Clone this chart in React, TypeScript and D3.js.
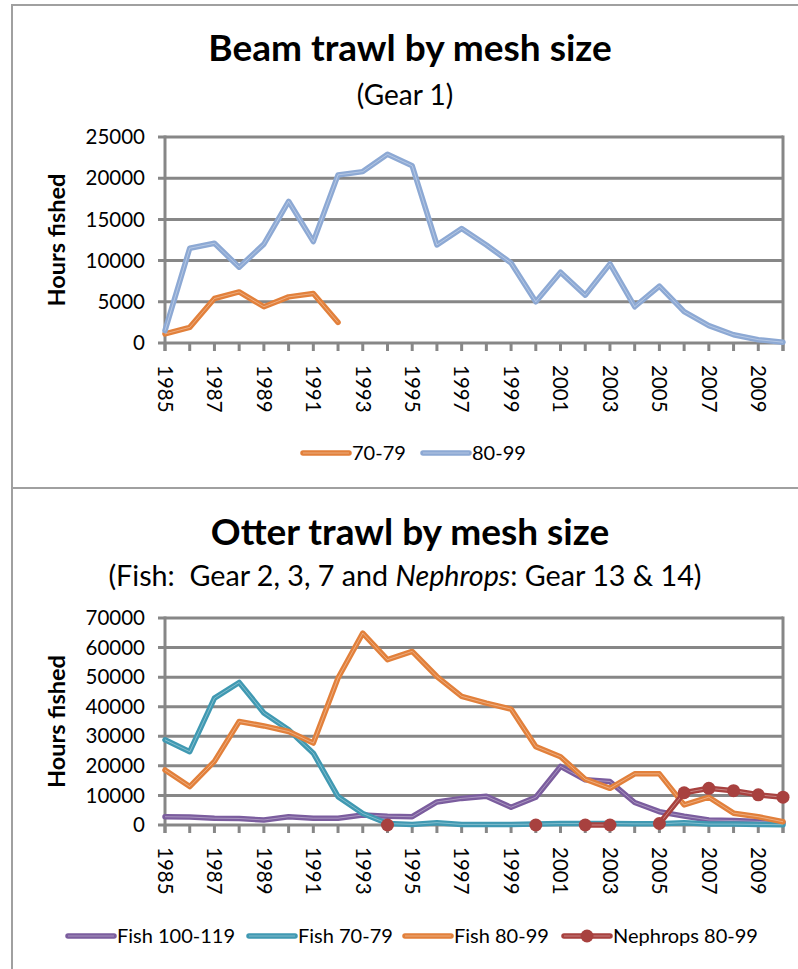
import React from "react";
import * as d3 from "d3";

const years = d3.range(1985, 2011);
const yearLabels = years.filter((y) => (y - 1985) % 2 === 0);

const beamTicks = [0, 5000, 10000, 15000, 20000, 25000];
const beam7079: (number | null)[] = [1100, 1900, 5400, 6200, 4400, 5600, 6000, 2500, null, null, null, null, null, null, null, null, null, null, null, null, null, null, null, null, null, null];
const beam8099: (number | null)[] = [1500, 11500, 12100, 9200, 12000, 17200, 12300, 20400, 20800, 22900, 21500, 11900, 13900, 11900, 9700, 5000, 8600, 5800, 9600, 4400, 6900, 3800, 2100, 1000, 400, 100];

const otterTicks = [0, 10000, 20000, 30000, 40000, 50000, 60000, 70000];
const fish100119: (number | null)[] = [2800, 2700, 2300, 2200, 1700, 2800, 2300, 2300, 3400, 3000, 2800, 7800, 9000, 9700, 6000, 9400, 19800, 15300, 14700, 7600, 4500, 3000, 1700, 1500, 1200, 800];
const fish7079: (number | null)[] = [28800, 24800, 42900, 48200, 37900, 32200, 24300, 9600, 3900, 500, 200, 800, 200, 200, 200, 300, 500, 500, 500, 400, 400, 800, 300, 300, 200, 100];
const fish8099: (number | null)[] = [18600, 13000, 21500, 35000, 33500, 31600, 27700, 49700, 64900, 55900, 58700, 50200, 43500, 41200, 39200, 26500, 23100, 15500, 12400, 17300, 17300, 6800, 9400, 4000, 2800, 1100];
const nephrops8099: (number | null)[] = [null, null, null, null, null, null, null, null, null, 0, null, null, null, null, null, 0, null, 0, 0, null, 500, 10900, 12400, 11600, 10200, 9400];

type Series = { name: string; values: (number | null)[]; color: string; marker?: boolean };

const beamSeries: Series[] = [
  { name: "70-79", values: beam7079, color: "#E2803B" },
  { name: "80-99", values: beam8099, color: "#8DA9D4" },
];
const otterSeries: Series[] = [
  { name: "Fish 100-119", values: fish100119, color: "#7B5D9E" },
  { name: "Fish 70-79", values: fish7079, color: "#4099B2" },
  { name: "Fish 80-99", values: fish8099, color: "#E2803B" },
  { name: "Nephrops 80-99", values: nephrops8099, color: "#A8413F", marker: true },
];

const FONT = "Lato, 'Open Sans', sans-serif";
const GRID = "#878787";

type ChartProps = {
  plotTop: number;
  plotBottom: number;
  ticks: number[];
  series: Series[];
  title: string;
  subtitle: React.ReactNode;
  subtitleSize: number;
  titleY: number;
  subtitleY: number;
  legendY: number;
  legendX: number[];
};

function Chart(p: ChartProps) {
  const x = d3.scalePoint<number>().domain(years).range([165, 783]);
  const y = d3.scaleLinear().domain([0, p.ticks[p.ticks.length - 1]]).range([p.plotBottom, p.plotTop]);
  const line = d3
    .line<number | null>()
    .defined((d) => d != null)
    .x((_, i) => x(years[i]) as number)
    .y((d) => y(d as number));
  const midY = (p.plotTop + p.plotBottom) / 2;
  return (
    <g>
      <text x={410} y={p.titleY} textAnchor="middle" fontFamily={FONT} fontWeight="bold" fontSize={37} fill="#000">
        {p.title}
      </text>
      <text x={405} y={p.subtitleY} textAnchor="middle" fontFamily={FONT} fontSize={p.subtitleSize} fill="#000" style={{ whiteSpace: "pre" }}>
        {p.subtitle}
      </text>
      {p.ticks.map((t) => (
        <line key={t} x1={158} x2={783} y1={y(t)} y2={y(t)} stroke={GRID} strokeWidth={3} />
      ))}
      <line x1={783} x2={783} y1={p.plotTop - 1.5} y2={p.plotBottom + 8} stroke={GRID} strokeWidth={3} />
      <line x1={165} x2={165} y1={p.plotTop - 1.5} y2={p.plotBottom + 8} stroke={GRID} strokeWidth={3} />
      {years.map((yr) => (
        <line key={yr} x1={x(yr)} x2={x(yr)} y1={p.plotBottom} y2={p.plotBottom + 8} stroke={GRID} strokeWidth={3} />
      ))}
      {p.ticks.map((t) => (
        <text key={t} x={145} y={y(t)} dy="0.35em" textAnchor="end" fontFamily={FONT} fontSize={20.5} fill="#000">
          {t}
        </text>
      ))}
      {yearLabels.map((yr) => (
        <text
          key={yr}
          transform={`translate(${x(yr)},${p.plotBottom + 22}) rotate(90)`}
          dy="0.35em"
          textAnchor="start"
          fontFamily={FONT}
          fontSize={20.5}
          fill="#000"
        >
          {yr}
        </text>
      ))}
      <text
        transform={`translate(65,${midY}) rotate(-90)`}
        textAnchor="middle"
        fontFamily={FONT}
        fontWeight="bold"
        fontSize={23.5}
        fill="#000"
      >
        Hours fished
      </text>
      {p.series.map((s) => (
        <g key={s.name}>
          <path d={line(s.values) || ""} fill="none" stroke={s.color} strokeWidth={5.5} strokeLinejoin="round" strokeLinecap="round" />
          <path d={line(s.values) || ""} fill="none" stroke="rgba(255,255,255,0.35)" strokeWidth={1} strokeLinejoin="round" />
          {s.marker &&
            s.values.map((v, i) =>
              v == null ? null : <circle key={i} cx={x(years[i])} cy={y(v)} r={6.5} fill={s.color} />
            )}
        </g>
      ))}
      {p.series.map((s, i) => {
        const lx = p.legendX[i];
        return (
          <g key={s.name}>
            <line x1={lx} x2={lx + 46} y1={p.legendY} y2={p.legendY} stroke={s.color} strokeWidth={5.5} strokeLinecap="round" />
            <line x1={lx} x2={lx + 46} y1={p.legendY} y2={p.legendY} stroke="rgba(255,255,255,0.35)" strokeWidth={1} />
            {s.marker && <circle cx={lx + 23} cy={p.legendY} r={6.5} fill={s.color} />}
            <text x={lx + 49} y={p.legendY} dy="0.35em" fontFamily={FONT} fontSize={20} fill="#000">
              {s.name}
            </text>
          </g>
        );
      })}
    </g>
  );
}

export default function App() {
  return (
    <svg width={798} height={969} style={{ position: "absolute", left: 0, top: 0, background: "#fff" }}>
      <rect x={0} y={0} width={798} height={969} fill="#fff" />
      <rect x={12} y={5} width={800} height={483} fill="none" stroke="#A0A0A0" strokeWidth={2} />
      <rect x={12} y={488} width={800} height={500} fill="none" stroke="#A0A0A0" strokeWidth={2} />
      <Chart
        plotTop={137}
        plotBottom={343}
        ticks={beamTicks}
        series={beamSeries}
        title="Beam trawl by mesh size"
        subtitle="(Gear 1)"
        subtitleSize={28}
        titleY={61}
        subtitleY={105}
        legendY={453}
        legendX={[303, 423]}
      />
      <Chart
        plotTop={618}
        plotBottom={825}
        ticks={otterTicks}
        series={otterSeries}
        title="Otter trawl by mesh size"
        subtitle={
          <>
            {"(Fish:  Gear 2, 3, 7 and "}
            <tspan fontStyle="italic">Nephrops</tspan>
            {": Gear 13 & 14)"}
          </>
        }
        subtitleSize={28.7}
        titleY={545}
        subtitleY={586}
        legendY={936}
        legendX={[68, 249, 405, 564]}
      />
    </svg>
  );
}
